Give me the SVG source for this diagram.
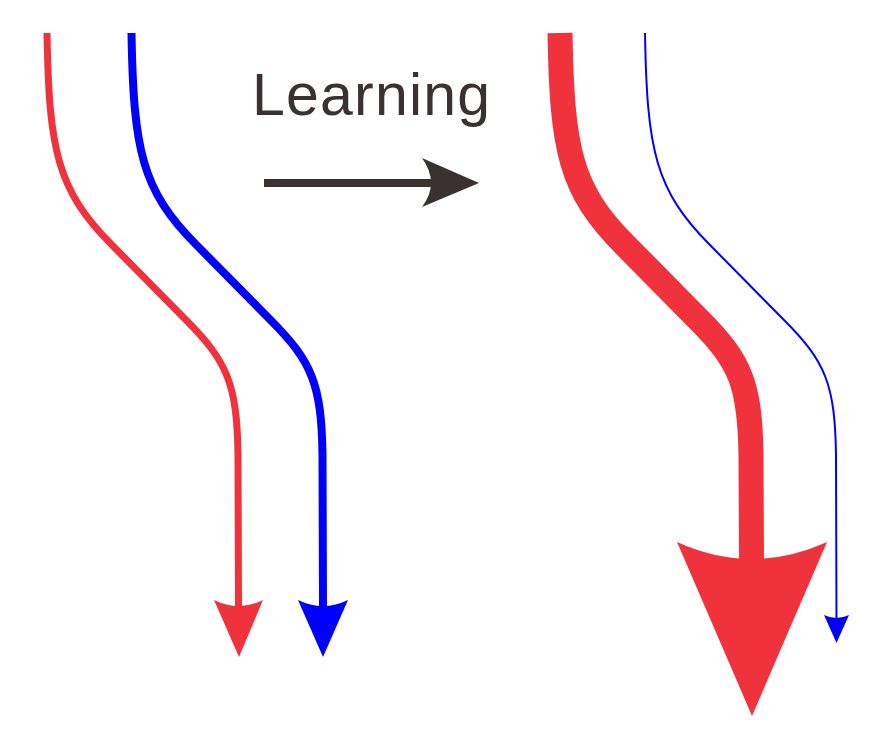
<svg xmlns="http://www.w3.org/2000/svg" width="889" height="740" viewBox="0 0 889 740">
<style>
.red{stroke:#EF323C;fill:none}
.blue{stroke:#0000FF;fill:none}
.rf{fill:#EF323C}
.bf{fill:#0000FF}
.dk{fill:#3A3230}
.lbl{font-family:"Liberation Sans",Arial,sans-serif;font-size:59px;fill:#3A3230;letter-spacing:1.2px}
</style>
<rect width="889" height="740" fill="#FFFFFF"/>
<g id="connectors">
<g id="left-red">
<path class="red" stroke-width="7" d="M47,33 C49,150 57,190 112,245 L186,320 C228,362 237,385 238,455 L238.5,606"/>
<path class="rf" d="M214,600 Q239,612 263,600 L239,657 Z"/>
</g>
<g id="left-blue">
<path class="blue" stroke-width="8" d="M131.5,33 C133.5,150 141.5,190 196.5,245 L270.5,320 C312.5,362 321.5,385 322.5,455 L323,606"/>
<path class="bf" d="M298,600 Q323,612 348,600 L323,657 Z"/>
</g>
<g id="right-red">
<path class="red" stroke-width="25" d="M560,33 C562,150 570,190 625,245 L699,320 C741,362 750,385 751,455 L751.5,562"/>
<path class="rf" d="M677,542 Q752,576 827,542 L752,716 Z"/>
</g>
<g id="right-blue">
<path class="blue" stroke-width="2" d="M645,33 C647,150 655,190 710,245 L784,320 C826,362 835,385 836,455 L836.5,618"/>
<path class="bf" d="M824,615 Q836.5,621 849,615 L836.5,643 Z"/>
</g>
<g id="learning-arrow">
<line x1="264" y1="183" x2="436" y2="183" stroke="#3A3230" stroke-width="8"/>
<path class="dk" d="M422,158 Q440,183 422,207 L479,183 Z"/>
</g>
</g>
<g id="label">
<text class="lbl" x="252" y="115">Learning</text>
</g>
</svg>
